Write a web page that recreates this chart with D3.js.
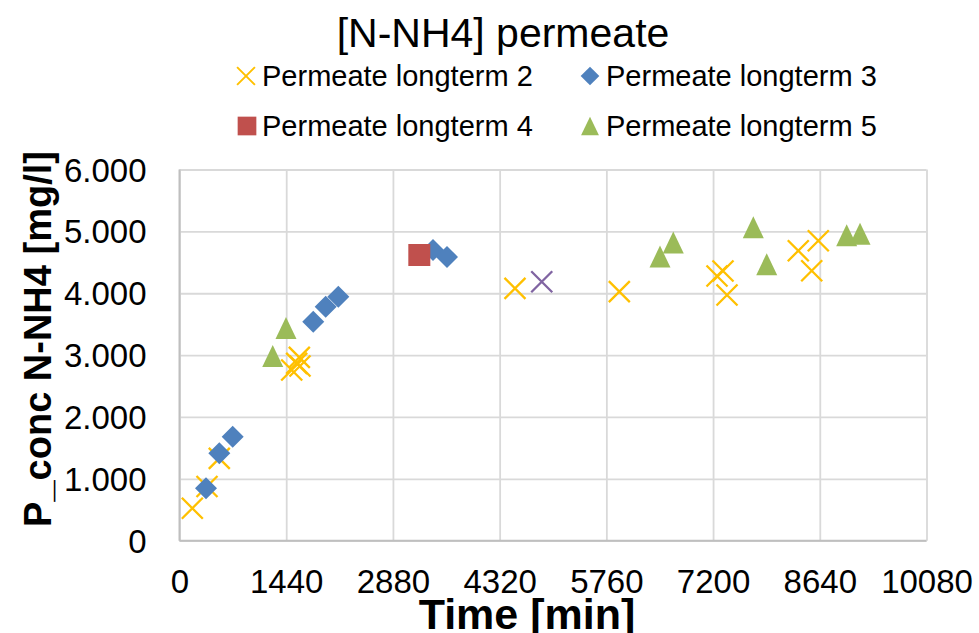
<!DOCTYPE html>
<html>
<head>
<meta charset="utf-8">
<script src="https://cdn.jsdelivr.net/npm/d3@7"></script>
<style>
  html, body { margin: 0; padding: 0; background: #fff; }
  svg text { font-family: "Liberation Sans", Arial, sans-serif; fill: #000; }
</style>
</head>
<body>
<svg id="chart" width="979" height="633"></svg>
<script>
// Ammonium nitrogen in permeate over run time, five long-term runs
const xTicks = [0, 1440, 2880, 4320, 5760, 7200, 8640, 10080];
const yTicks = [0, 1000, 2000, 3000, 4000, 5000, 6000];

const lt2Time = [173, 371, 537, 1514, 1581, 1617, 1626, 4527, 5935, 7253, 7334, 7388, 8350, 8620, 8531];
const lt2Conc = [524, 876, 1331, 2759, 2867, 2964, 2824, 4079, 4025, 4279, 4359, 3971, 4687, 4849, 4364];

const lt3Time = [358, 537, 718, 1805, 1973, 2143, 3245, 3421, 3610];
const lt3Conc = [847, 1413, 1681, 3540, 3782, 3944, 4618, 4699, 4586];

const lt4Time = [3236];
const lt4Conc = [4618];

const lt5Time = [1258, 1437, 6484, 6663, 7743, 7924, 9003, 9183];
const lt5Conc = [2986, 3438, 4592, 4820, 5067, 4469, 4936, 4961];

const lt1Time = [4888];
const lt1Conc = [4186];

const seriesNames = ["Permeate longterm 2", "Permeate longterm 3", "Permeate longterm 4", "Permeate longterm 5"];

const series = [
  { name: seriesNames[0], t: lt2Time, c: lt2Conc, shape: "x", color: "#FFC000" },
  { name: seriesNames[1], t: lt3Time, c: lt3Conc, shape: "diamond", color: "#4F81BD" },
  { name: seriesNames[2], t: lt4Time, c: lt4Conc, shape: "square", color: "#C0504D" },
  { name: seriesNames[3], t: lt5Time, c: lt5Conc, shape: "triangle", color: "#9BBB59" },
  { name: "Permeate longterm 1", t: lt1Time, c: lt1Conc, shape: "x", color: "#8064A2", hidden: true }
];

const svg = d3.select("#chart");
const plot = { left: 179.5, right: 926.5, top: 169.5, bottom: 540.7 };

const x = d3.scaleLinear().domain([0, 10080]).range([plot.left, plot.right]);
const y = d3.scaleLinear().domain([0, 6000]).range([plot.bottom, plot.top]);

const de = d3.formatLocale({ decimal: ",", thousands: ".", grouping: [3], currency: ["", " €"] });
const yFmt = de.format(",d");

// gridlines
svg.append("g")
  .attr("transform", `translate(0,${plot.bottom})`)
  .call(d3.axisBottom(x).tickValues(xTicks).tickSize(-(plot.bottom - plot.top)).tickFormat(""))
  .call(g => g.select(".domain").remove())
  .call(g => g.selectAll("line").attr("stroke", "#D9D9D9").attr("stroke-width", 1.8));

svg.append("g")
  .attr("transform", `translate(${plot.left},0)`)
  .call(d3.axisLeft(y).tickValues(yTicks).tickSize(-(plot.right - plot.left)).tickFormat(""))
  .call(g => g.select(".domain").remove())
  .call(g => g.selectAll("line").attr("stroke", "#D9D9D9").attr("stroke-width", 1.8));

// axis lines
svg.append("line").attr("x1", plot.left).attr("x2", plot.right)
  .attr("y1", plot.bottom).attr("y2", plot.bottom)
  .attr("stroke", "#BFBFBF").attr("stroke-width", 2);
svg.append("line").attr("x1", plot.left).attr("x2", plot.left)
  .attr("y1", plot.top).attr("y2", plot.bottom)
  .attr("stroke", "#BFBFBF").attr("stroke-width", 2);

// tick labels
const xAxis = svg.append("g")
  .attr("transform", `translate(0,${plot.bottom})`)
  .call(d3.axisBottom(x).tickValues(xTicks).tickSize(0).tickPadding(0).tickFormat(d3.format("d")));
xAxis.select(".domain").remove();
xAxis.selectAll("text")
  .attr("font-size", 33).attr("dy", null).attr("y", 52)
  .style("font-family", '"Liberation Sans", Arial, sans-serif');

const yAxis = svg.append("g")
  .attr("transform", `translate(${plot.left},0)`)
  .call(d3.axisLeft(y).tickValues(yTicks).tickSize(0).tickPadding(0).tickFormat(yFmt));
yAxis.select(".domain").remove();
yAxis.selectAll("text")
  .attr("font-size", 33).attr("x", -33).attr("dy", "0.35em")
  .style("font-family", '"Liberation Sans", Arial, sans-serif');

// marker symbols
function markerPath(shape) {
  const p = d3.path();
  if (shape === "x") {
    const h = 10.5;
    p.moveTo(-h, -h); p.lineTo(h, h);
    p.moveTo(-h, h); p.lineTo(h, -h);
  } else if (shape === "diamond") {
    const h = 11;
    p.moveTo(0, -h); p.lineTo(h, 0); p.lineTo(0, h); p.lineTo(-h, 0); p.closePath();
  } else if (shape === "square") {
    const h = 11;
    p.rect(-h, -h, 2 * h, 2 * h);
  } else {
    const w = 10.5, h = 11;
    p.moveTo(0, -h); p.lineTo(w, h); p.lineTo(-w, h); p.closePath();
  }
  return p.toString();
}

function styleMarker(sel, s) {
  if (s.shape === "x") {
    sel.attr("fill", "none").attr("stroke", s.color).attr("stroke-width", 2.3);
  } else {
    sel.attr("fill", s.color).attr("stroke", "none");
  }
}

// data markers, series drawn in order
series.forEach(s => {
  const pts = s.t.map((t, i) => ({ t, c: s.c[i] }));
  svg.append("g").selectAll("path")
    .data(pts)
    .join("path")
    .attr("d", markerPath(s.shape))
    .attr("transform", d => `translate(${x(d.t)},${y(d.c)})`)
    .call(sel => styleMarker(sel, s));
});

// title
svg.append("text")
  .attr("x", 503).attr("y", 47)
  .attr("text-anchor", "middle")
  .attr("font-size", 41)
  .text("[N-NH4] permeate");

// legend
const legendPos = [
  { mx: 246, tx: 262, y: 76 },
  { mx: 590, tx: 606, y: 76 },
  { mx: 247, tx: 262, y: 126 },
  { mx: 590, tx: 606, y: 126 }
];
series.filter(s => !s.hidden).forEach((s, i) => {
  const p = legendPos[i];
  const g = svg.append("g");
  g.append("path")
    .attr("d", markerPath(s.shape))
    .attr("transform", `translate(${p.mx},${p.y}) scale(0.85)`)
    .call(sel => styleMarker(sel, s));
  g.append("text")
    .attr("x", p.tx).attr("y", p.y).attr("dy", "0.36em")
    .attr("font-size", 29)
    .text(s.name);
});

// axis titles
svg.append("text")
  .attr("x", 527).attr("y", 629)
  .attr("text-anchor", "middle")
  .attr("font-size", 43).attr("font-weight", "bold")
  .text("Time [min]");

svg.append("text")
  .attr("transform", "translate(51,339) rotate(-90)")
  .attr("text-anchor", "middle")
  .attr("font-size", 38).attr("font-weight", "bold")
  .text("P_conc N-NH4 [mg/l]");
</script>
</body>
</html>
